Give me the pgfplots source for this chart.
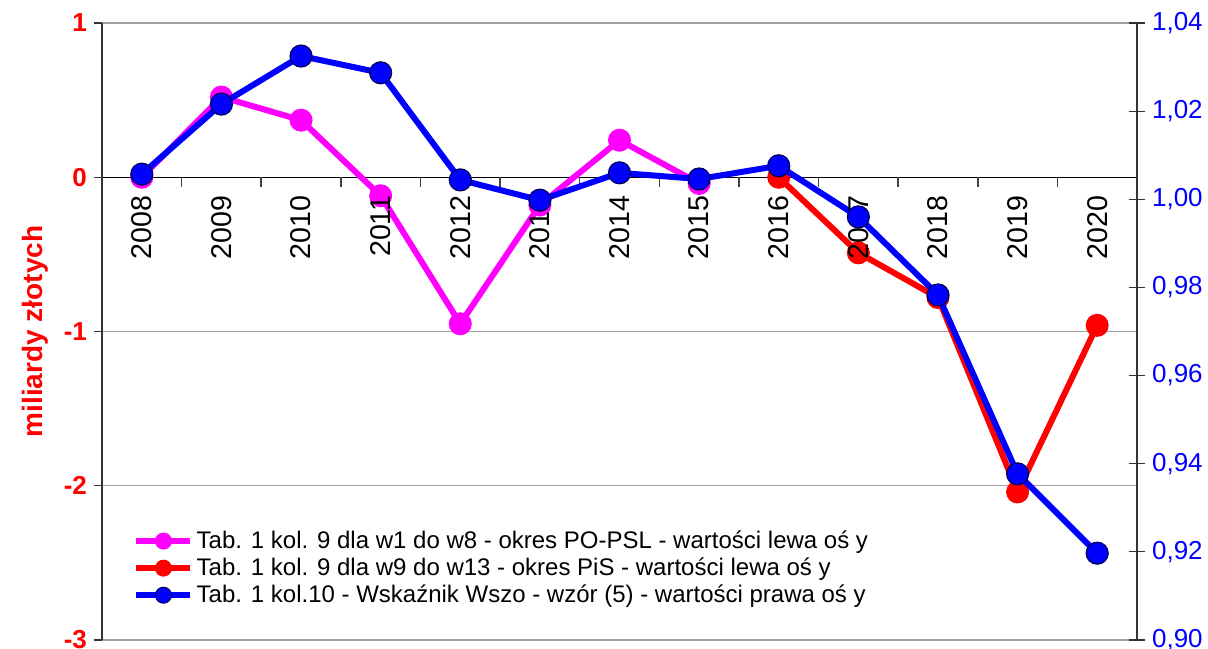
\documentclass[border=0pt]{standalone}
\usepackage{fontspec}
\setmainfont{Liberation Sans}
\usepackage{pgfplots}
\pgfplotsset{compat=1.18}
\definecolor{cMag}{RGB}{255,0,255}
\definecolor{cRed}{RGB}{255,0,0}
\definecolor{cBlue}{RGB}{0,0,255}
\definecolor{cNavy}{RGB}{0,0,90}
\begin{document}
\begin{tikzpicture}
\useasboundingbox (-51pt,-4pt) rectangle (553pt,320pt);
\begin{axis}[
  scale only axis, width=517.5pt, height=308.5pt,
  xmin=-0.5, xmax=12.5, ymin=-3, ymax=1,
  axis x line=middle, axis y line=left,
  x axis line style={-, black, line width=0.6pt},
  y axis line style={-, black!80, line width=0.7pt},
  xtick=\empty,
  ytick={-3,-2,-1,0,1}, yticklabels={-3,-2,-1,0,1},
  ytick align=outside, major tick length=4pt,
  major y tick style={black!80, line width=0.6pt},
  yticklabel style={font=\fontsize{13}{13}\selectfont\bfseries, text=cRed},
  ymajorgrids, grid style={gray!75, line width=0.6pt},
  ylabel={miliardy złotych},
  ylabel style={at={(axis description cs:-0.0647,0.5)}, anchor=center, font=\fontsize{14}{14}\selectfont\bfseries, text=cRed},
  legend style={at={(0.03,0.05)}, anchor=south west, draw=none, fill=none,
    font=\fontsize{12}{12}\selectfont, cells={anchor=west}, inner sep=0pt,
    nodes={inner sep=1.6pt}},
  legend image code/.code={\draw[#1, mark repeat=2, mark phase=2] plot coordinates {(0pt,0pt) (13.5pt,0pt) (27pt,0pt)};},
  legend image post style={mark size=4pt},
]
\pgfplotsinvokeforeach{0.5,1.5,2.5,3.5,4.5,5.5,6.5,7.5,8.5,9.5,10.5,11.5}{
  \draw[black!75, line width=0.8pt] (axis cs:#1,0) -- ++(0pt,-5pt);
}
\addplot[cMag, line width=3pt, mark=*, mark size=5.5pt, mark options={fill=cMag, draw=cMag, line width=0.5pt}]
  coordinates {(0,0.0)(1,0.52)(2,0.37)(3,-0.12)(4,-0.95)(5,-0.18)(6,0.24)(7,-0.04)};
\addlegendentry{Tab. 1 kol. 9 dla w1 do w8 - okres PO-PSL - wartości lewa oś y}
\addplot[cRed, line width=3pt, mark=*, mark size=5.5pt, mark options={fill=cRed, draw=cRed, line width=0.5pt}]
  coordinates {(8,0.0)(9,-0.49)(10,-0.78)(11,-2.04)(12,-0.96)};
\addlegendentry{Tab. 1 kol. 9 dla w9 do w13 - okres PiS - wartości lewa oś y}
\addlegendimage{cBlue, line width=3pt, mark=*, mark options={fill=cBlue, draw=cNavy, line width=0.5pt}}
\addlegendentry{Tab. 1 kol.10 - Wskaźnik Wszo - wzór (5) - wartości prawa oś y}
\end{axis}
\begin{axis}[
  scale only axis, width=517.5pt, height=308.5pt,
  xmin=-0.5, xmax=12.5, ymin=0.90, ymax=1.04,
  axis y line*=right, axis x line*=bottom,
  x axis line style={draw=none},
  xtick={0,1,2,3,4,5,6,7,8,9,10,11,12},
  xticklabels={2008,2009,2010,2011,2012,2013,2014,2015,2016,2017,2018,2019,2020},
  major x tick style={draw=none},
  xticklabel style={rotate=90, anchor=east, font=\fontsize{14.3}{14.3}\selectfont, inner sep=0pt},
  xticklabel shift=-222.5pt,
  ytick={0.90,0.92,0.94,0.96,0.98,1.00,1.02,1.04},
  yticklabels={{0,90},{0,92},{0,94},{0,96},{0,98},{1,00},{1,02},{1,04}},
  y axis line style={-, black!80, line width=0.7pt},
  ytick align=center, major tick length=8pt,
  major y tick style={black!80, line width=0.6pt},
  yticklabel style={font=\fontsize{13}{13}\selectfont, text=cBlue},
  axis on top,
]
\addplot[cBlue, line width=3pt, mark=*, mark size=5.5pt, mark options={fill=cBlue, draw=cNavy, line width=0.6pt}]
  coordinates {(0,1.0057)(1,1.0216)(2,1.0325)(3,1.0287)(4,1.0044)(5,0.9998)(6,1.0060)(7,1.0046)(8,1.0076)(9,0.9960)(10,0.9783)(11,0.9377)(12,0.9197)};
\end{axis}
\end{tikzpicture}
\end{document}
